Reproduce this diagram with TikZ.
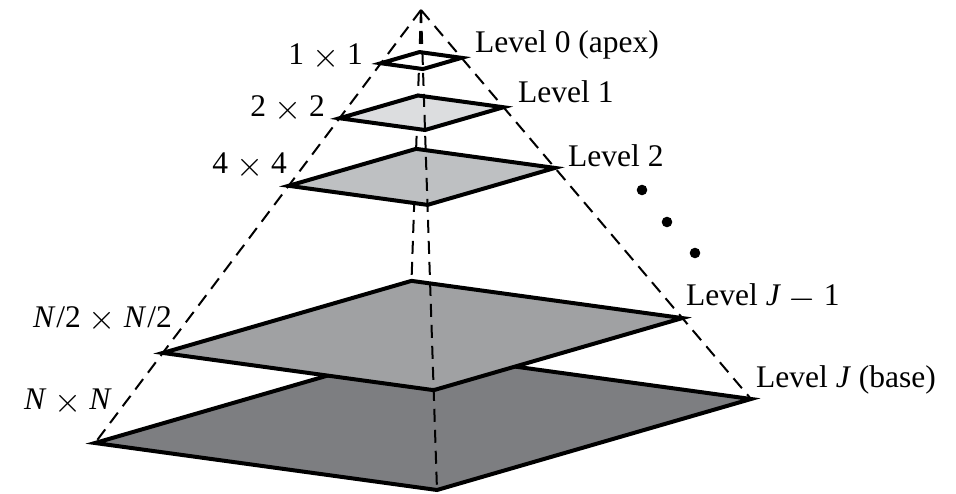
\documentclass[tikz,border=0pt]{standalone}
\usepackage{fontspec}
\usepackage{graphicx}
\setmainfont{Liberation Serif}
\usetikzlibrary{calc}
\definecolor{pyrone}{HTML}{DCDDDF}
\definecolor{pyrtwo}{HTML}{BEC0C2}
\definecolor{pyrjm}{HTML}{A0A1A3}
\definecolor{pyrbase}{HTML}{7D7E81}
\newcommand{\cross}{\ \raisebox{-3pt}{\scalebox{1.4}{$\times$}}\ }
\newcommand{\less}{\ \raisebox{-3pt}{\scalebox{1.4}{$-$}}\ }

\begin{document}
\begin{tikzpicture}[x=1pt,y=-1pt,
    plane/.style={draw=black,line width=4pt},
    edge/.style={black,line width=2pt,dash pattern=on 13pt off 8pt},
    lbl/.style={inner sep=0pt,font=\fontsize{31.5}{36}\selectfont}]
    \useasboundingbox (0,0) rectangle (956,494);
    % apex and corners of the base
    \coordinate (apex) at (421,10);
    \coordinate (bl) at (95,443);
    \coordinate (bf) at (437,490);
    \coordinate (br) at (751,399);
    \coordinate (bb) at ($(bl)+(br)-(bf)$);
    % hidden back edge first, the levels cover it
    \draw[edge] (apex) -- (bb);
    \foreach \t/\c/\n in {1/pyrbase/J,0.792/pyrjm/Jm,0.406/pyrtwo/two,
      0.25/pyrone/one,0.123/white/zero}{
      \filldraw[plane,fill=\c] ($(apex)!\t!(bl)$) coordinate (\n l)
        -- ($(apex)!\t!(bf)$) coordinate (\n f)
        -- ($(apex)!\t!(br)$) coordinate (\n r)
        -- ($(apex)!\t!(bb)$) coordinate (\n b) -- cycle;
    }
    \draw[edge] (apex) -- (bl) (apex) -- (bf) (apex) -- (br);
    % sizes
    \node[lbl,anchor=base east] (szzero) at (363,65) {1\cross1};
    \node[lbl,anchor=base east] (szone) at (325,117) {2\cross2};
    \node[lbl,anchor=base east] (sztwo) at (287,174) {4\cross4};
    \node[lbl,anchor=base east] (szjm) at (172,327)
      {\textit{N}\kern1pt/2\cross\textit{N}\kern1pt/2};
    \node[lbl,anchor=base east] (szj) at (112,409) {\textit{N}\cross\textit{N}};
    % levels
    \node[lbl,anchor=base west] (lvzero) at (475,53) {Level 0 (apex)};
    \node[lbl,anchor=base west] (lvone) at (518,103) {Level 1};
    \node[lbl,anchor=base west] (lvtwo) at (568,167) {Level 2};
    \node[lbl,anchor=base west] (lvjm) at (686,306) {Level \textit{J}\less1};
    \node[lbl,anchor=base west] (lvj) at (756,387) {Level \textit{J} (base)};
    \fill (642,190) circle (5.3);
    \fill (667,222) circle (5.3);
    \fill (695,253) circle (5.3);
\end{tikzpicture}
\end{document}
